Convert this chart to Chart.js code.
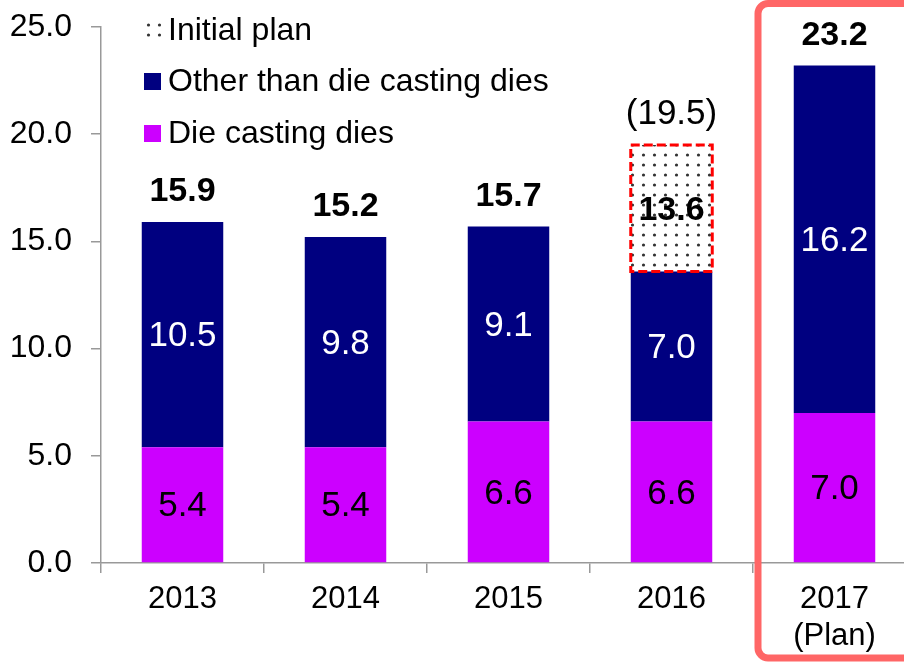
<!DOCTYPE html>
<html>
<head>
<meta charset="utf-8">
<script src="https://cdn.jsdelivr.net/npm/chart.js"></script>
<style>
  html, body { margin: 0; padding: 0; background: #fff; overflow: hidden; }
  canvas { display: block; }
</style>
</head>
<body>
<canvas id="myChart" width="916" height="664"></canvas>
<script>
// data
var years = ['2013', '2014', '2015', '2016', ['2017', '(Plan)']];
var dieCasting = [5.4, 5.4, 6.6, 6.6, 7.0];
var otherDies = [10.5, 9.8, 9.1, 7.0, 16.2];
var initialPlanTotal = [null, null, null, 19.5, null];
var yTicks = [0, 5, 10, 15, 20, 25];

var FONT = '"Liberation Sans", Arial, sans-serif';

var totals = dieCasting.map(function (v, i) { return +(v + otherDies[i]).toFixed(1); });
var planGap = initialPlanTotal.map(function (v, i) { return v == null ? null : +(v - totals[i]).toFixed(1); });

// dotted fill for the initial plan
function makeDots() {
  var c = document.createElement('canvas');
  c.width = 11; c.height = 10;
  var g = c.getContext('2d');
  g.fillStyle = '#ffffff';
  g.fillRect(0, 0, 11, 10);
  g.fillStyle = '#333333';
  g.beginPath();
  g.arc(5.5, 5, 1.6, 0, Math.PI * 2);
  g.fill();
  return g.createPattern(c, 'repeat');
}
var dots = makeDots();

var overlay = {
  id: 'overlay',
  afterDatasetsDraw: function (chart) {
    var ctx = chart.ctx;
    var ys = chart.scales.y;
    var dieMeta = chart.getDatasetMeta(0);
    var otherMeta = chart.getDatasetMeta(1);
    var planMeta = chart.getDatasetMeta(2);
    ctx.save();

    // dashed red outline on the plan box
    planMeta.data.forEach(function (bar, i) {
      if (planGap[i] == null) return;
      var p = bar.getProps(['x', 'y', 'base', 'width'], true);
      ctx.setLineDash([9, 4]);
      ctx.strokeStyle = '#FF0000';
      ctx.lineWidth = 3;
      ctx.strokeRect(p.x - p.width / 2, p.y, p.width, p.base - p.y);
    });
    ctx.setLineDash([]);

    ctx.textAlign = 'center';
    ctx.textBaseline = 'middle';

    // segment values
    ctx.font = '35px ' + FONT;
    dieMeta.data.forEach(function (bar, i) {
      var p = bar.getProps(['x', 'y', 'base'], true);
      ctx.fillStyle = '#000000';
      ctx.fillText(dieCasting[i].toFixed(1), p.x, (p.y + p.base) / 2 + 2);
    });
    otherMeta.data.forEach(function (bar, i) {
      var p = bar.getProps(['x', 'y', 'base'], true);
      ctx.fillStyle = '#ffffff';
      ctx.fillText(otherDies[i].toFixed(1), p.x, (p.y + p.base) / 2 + 2);
    });

    // totals
    totals.forEach(function (t, i) {
      var x = otherMeta.data[i].x;
      var y;
      if (planGap[i] != null) {
        var pb = planMeta.data[i].getProps(['y', 'base'], true);
        y = (pb.y + pb.base) / 2 + 2;
        ctx.font = '35px ' + FONT;
        ctx.fillStyle = '#000000';
        ctx.fillText('(' + initialPlanTotal[i].toFixed(1) + ')', x, ys.getPixelForValue(initialPlanTotal[i]) - 31);
      } else {
        y = ys.getPixelForValue(t) - 30;
      }
      ctx.font = 'bold 34px ' + FONT;
      ctx.fillStyle = '#000000';
      ctx.fillText(t.toFixed(1), x, y);
    });
    ctx.restore();
  },
  afterDraw: function (chart) {
    var ctx = chart.ctx;
    var xs = chart.scales.x;
    ctx.save();

    // legend inside the plot
    var items = [
      { text: 'Initial plan', fill: dots, y: 30 },
      { text: 'Other than die casting dies', fill: '#000080', y: 81.5 },
      { text: 'Die casting dies', fill: '#CC00FF', y: 133.5 }
    ];
    ctx.font = '32px ' + FONT;
    ctx.textBaseline = 'middle';
    ctx.textAlign = 'left';
    items.forEach(function (it) {
      ctx.fillStyle = it.fill;
      ctx.fillRect(144, it.y - 8.5, 17, 17);
      ctx.fillStyle = '#000000';
      ctx.fillText(it.text, 168, it.y + 1);
    });

    // red frame around the plan year
    var step = xs.getPixelForValue(1) - xs.getPixelForValue(0);
    var left = xs.getPixelForValue(4) - step / 2 + 5;
    ctx.strokeStyle = '#FF6666';
    ctx.lineWidth = 7;
    ctx.beginPath();
    ctx.roundRect(left, 3.5, 220, 654.5, 10);
    ctx.stroke();
    ctx.restore();
  }
};

var data = {
  labels: years,
  datasets: [{
    label: 'Die casting dies',
    data: dieCasting,
    backgroundColor: '#CC00FF',
    borderWidth: 0
  }, {
    label: 'Other than die casting dies',
    data: otherDies,
    backgroundColor: '#000080',
    borderWidth: 0
  }, {
    label: 'Initial plan',
    data: planGap,
    backgroundColor: dots,
    borderWidth: 0
  }]
};

var config = {
  type: 'bar',
  data: data,
  options: {
    responsive: false,
    animation: false,
    layout: { padding: { top: 27, left: 0, right: 0, bottom: 0 } },
    categoryPercentage: 1.0,
    barPercentage: 0.5,
    plugins: {
      legend: { display: false },
      title: { display: false },
      tooltip: { enabled: false }
    },
    scales: {
      x: {
        stacked: true,
        afterFit: function (s) { s.height = 101; },
        border: { display: true, color: '#999999', width: 1.5 },
        grid: { drawOnChartArea: false, drawTicks: true, tickLength: 10, color: '#999999', lineWidth: 1.5 },
        ticks: {
          color: '#000000',
          padding: 8,
          maxRotation: 0,
          autoSkip: false,
          font: { family: FONT, size: 31, lineHeight: 1.2 }
        }
      },
      y: {
        stacked: true,
        min: yTicks[0],
        max: yTicks[yTicks.length - 1],
        afterFit: function (s) {
          s.width = 101;
          s.paddingTop = 0;
          s.paddingBottom = 0;
        },
        border: { display: true, color: '#999999', width: 1.5 },
        grid: { drawOnChartArea: false, drawTicks: true, tickLength: 10, color: '#999999', lineWidth: 1.5 },
        ticks: {
          stepSize: yTicks[1] - yTicks[0],
          color: '#000000',
          padding: 19,
          font: { family: FONT, size: 32 },
          callback: function (v) { return Number(v).toFixed(1); }
        }
      }
    }
  },
  plugins: [overlay]
};

var myChart = new Chart(document.getElementById('myChart'), config);
</script>
</body>
</html>
